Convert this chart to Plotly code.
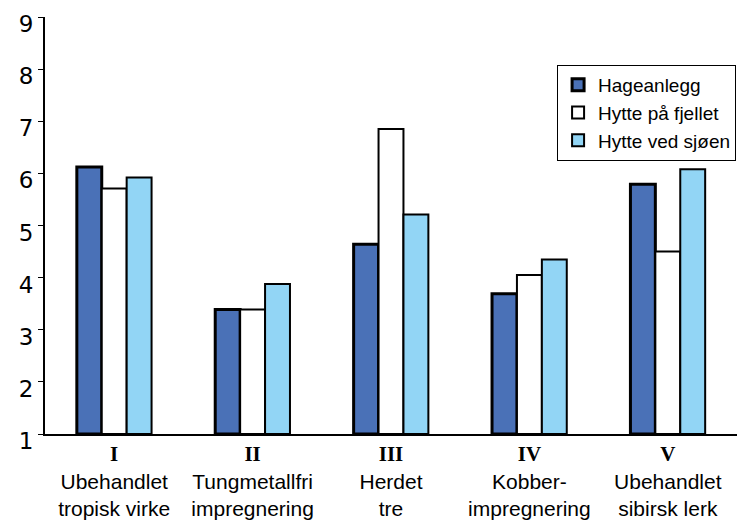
import plotly.graph_objects as go

# Treatment groups along the x axis
numerals = ["I", "II", "III", "IV", "V"]
treatments = [
    "Ubehandlet<br>tropisk virke",
    "Tungmetallfri<br>impregnering",
    "Herdet<br>tre",
    "Kobber-<br>impregnering",
    "Ubehandlet<br>sibirsk lerk",
]

# Values per exposure site
hageanlegg = [6.12, 3.39, 4.64, 3.69, 5.79]
hytte_fjellet = [5.71, 3.39, 6.85, 4.05, 4.50]
hytte_sjoen = [5.92, 3.88, 5.21, 4.35, 6.08]

y_ticks = [1, 2, 3, 4, 5, 6, 7, 8, 9]

ticktext = [
    f"<span style='font-family:Liberation Serif'><b>{n}</b></span><br>{t}"
    for n, t in zip(numerals, treatments)
]

series = [
    ("Hageanlegg", hageanlegg, "#4a71b7", 3),
    ("Hytte på fjellet", hytte_fjellet, "#ffffff", 2),
    ("Hytte ved sjøen", hytte_sjoen, "#92d5f5", 2),
]

fig = go.Figure()
for name, vals, color, lw in series:
    fig.add_trace(
        go.Bar(
            name=name,
            x=numerals,
            y=[v - 1 for v in vals],
            base=1,
            marker=dict(color=color, line=dict(color="black", width=lw)),
        )
    )

# the page body has an 8px margin, so the figure is a bit smaller than the window
fig.update_layout(
    width=747,
    height=513,
    barmode="group",
    bargap=0.46,
    bargroupgap=0,
    plot_bgcolor="white",
    paper_bgcolor="white",
    margin=dict(l=37, r=18, t=9, b=87),
    font=dict(family="Liberation Sans, Arial", size=21, color="black"),
    legend=dict(
        x=0.74,
        y=0.885,
        xanchor="left",
        yanchor="top",
        bordercolor="black",
        borderwidth=1,
        bgcolor="white",
        font=dict(size=19),
        tracegroupgap=0,
    ),
    showlegend=True,
)
fig.update_xaxes(
    tickvals=numerals,
    ticktext=ticktext,
    showline=True,
    linecolor="black",
    linewidth=2,
    showgrid=False,
    ticks="",
    automargin=False,
    ticklabeloverflow="allow",
)
fig.update_yaxes(
    range=[1, 9],
    tickvals=y_ticks,
    showline=True,
    linecolor="black",
    linewidth=2,
    showgrid=False,
    zeroline=False,
    ticks="outside",
    ticklen=5,
    tickcolor="black",
    tickfont=dict(family="DejaVu Sans, Verdana", size=23),
    ticklabelshift=7,
    automargin=False,
    ticklabeloverflow="allow",
)

fig.write_html("out.html")
